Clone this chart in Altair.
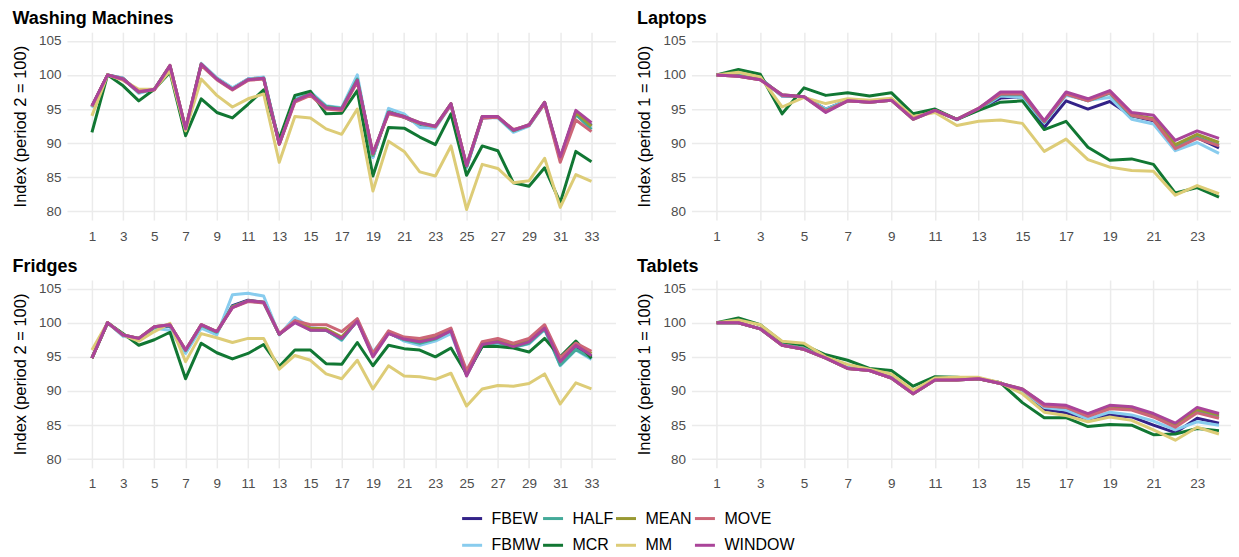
import altair as alt
import pandas as pd

# ---------------- data ----------------
periods_33 = list(range(1, 34))
periods_24 = list(range(1, 25))

series_draw = ["FBEW", "FBMW", "HALF", "MCR", "MEAN", "MM", "MOVE", "WINDOW"]
legend_order = ["FBEW", "HALF", "MEAN", "MOVE", "FBMW", "MCR", "MM", "WINDOW"]
series_colors = {
    "FBEW": "#332288", "FBMW": "#88CCEE", "HALF": "#44AA99", "MCR": "#117733",
    "MEAN": "#999933", "MM": "#DDCC77", "MOVE": "#CC6677", "WINDOW": "#AA4499",
}

# Washing Machines (period 2 = 100)
wm_fbew = [95.3, 100, 99.5, 97.4, 97.9, 101.3, 92.0, 101.5, 99.5, 98.0, 99.4, 99.6, 90.0, 96.4, 97.3, 95.3, 95.1, 99.5, 88.0, 94.7, 93.8, 92.7, 92.4, 95.7, 86.5, 93.7, 93.8, 91.8, 92.6, 95.9, 87.8, 94.6, 92.6]
wm_fbmw = [95.2, 100, 99.5, 97.3, 97.9, 101.2, 91.9, 101.7, 99.6, 98.1, 99.4, 99.7, 90.1, 96.6, 97.5, 95.5, 95.2, 100.0, 87.9, 95.1, 94.3, 92.3, 92.2, 95.6, 86.4, 93.8, 93.7, 91.6, 92.5, 95.8, 87.6, 94.5, 92.2]
wm_half = [95.4, 100, 99.4, 97.5, 97.9, 101.3, 92.1, 101.5, 99.4, 97.9, 99.3, 99.5, 89.9, 96.3, 97.3, 95.4, 95.1, 99.4, 88.2, 94.6, 93.9, 92.8, 92.4, 95.7, 86.6, 93.8, 93.8, 91.8, 92.6, 95.9, 87.6, 94.2, 92.0]
wm_mcr = [91.6, 100, 98.4, 96.2, 97.9, 100.4, 91.1, 96.5, 94.5, 93.7, 95.7, 97.8, 90.6, 97.0, 97.6, 94.3, 94.4, 97.7, 85.2, 92.3, 92.2, 90.9, 89.8, 94.3, 85.3, 89.6, 88.9, 84.2, 83.7, 86.4, 81.3, 88.8, 87.3]
wm_mean = [95.4, 100, 99.4, 97.5, 97.9, 101.4, 92.1, 101.6, 99.4, 97.9, 99.3, 99.5, 89.9, 96.2, 97.2, 95.2, 95.0, 99.2, 88.4, 94.5, 93.9, 93.0, 92.5, 95.8, 86.7, 93.9, 93.9, 91.9, 92.7, 96.0, 87.8, 94.5, 92.5]
wm_mm = [94.0, 100, 99.2, 97.9, 97.9, 100.6, 91.8, 99.4, 97.0, 95.3, 96.5, 97.2, 87.2, 93.9, 93.7, 92.1, 91.3, 95.0, 83.0, 90.3, 88.8, 85.8, 85.2, 89.6, 80.3, 86.9, 86.3, 84.2, 84.5, 87.8, 80.6, 85.4, 84.4]
wm_move = [95.4, 100, 99.3, 97.6, 97.8, 101.3, 92.2, 101.4, 99.3, 97.8, 99.2, 99.4, 89.8, 96.0, 97.0, 95.0, 94.8, 99.0, 88.6, 94.3, 93.8, 92.9, 92.4, 95.6, 86.8, 93.7, 93.8, 92.0, 92.6, 95.8, 87.2, 93.4, 91.7]
wm_window = [95.5, 100, 99.4, 97.5, 97.9, 101.4, 92.1, 101.6, 99.4, 97.9, 99.3, 99.5, 89.9, 96.2, 97.2, 95.2, 95.0, 99.2, 88.5, 94.5, 93.9, 93.0, 92.5, 95.8, 86.7, 93.9, 93.9, 91.9, 92.7, 96.0, 88.0, 94.8, 93.0]

# Laptops (period 1 = 100)
lp_fbew = [100, 99.9, 99.5, 96.9, 96.8, 95.0, 96.3, 96.1, 96.4, 93.7, 94.8, 93.5, 95.0, 96.6, 96.8, 92.3, 96.2, 95.0, 96.1, 94.0, 93.3, 89.4, 90.8, 89.3]
lp_fbmw = [100, 99.9, 99.5, 96.9, 96.8, 95.0, 96.3, 96.1, 96.4, 93.7, 94.8, 93.4, 94.9, 96.9, 96.7, 93.0, 97.0, 96.3, 96.7, 93.5, 92.8, 88.9, 90.1, 88.5]
lp_half = [100, 99.9, 99.4, 97.0, 96.8, 94.8, 96.2, 96.0, 96.3, 93.6, 94.8, 93.5, 95.0, 97.1, 97.1, 93.1, 97.2, 96.2, 97.3, 94.0, 93.5, 89.5, 90.9, 89.7]
lp_mcr = [100, 100.8, 100.1, 94.3, 98.1, 97.0, 97.4, 96.9, 97.4, 94.3, 95.0, 93.5, 94.8, 96.0, 96.2, 92.0, 93.2, 89.4, 87.5, 87.7, 86.9, 82.7, 83.5, 82.1]
lp_mean = [100, 99.8, 99.3, 97.1, 96.8, 94.6, 96.2, 96.0, 96.3, 93.5, 94.8, 93.5, 95.1, 97.3, 97.3, 93.2, 97.3, 96.4, 97.5, 94.2, 93.6, 89.8, 91.3, 90.1]
lp_mm = [100, 100.4, 99.7, 95.3, 96.7, 95.8, 96.5, 96.3, 96.6, 93.9, 94.5, 92.6, 93.2, 93.4, 92.9, 88.8, 90.6, 87.6, 86.5, 86.0, 85.9, 82.4, 83.8, 82.6]
lp_move = [100, 99.8, 99.3, 97.0, 96.8, 94.7, 96.2, 96.0, 96.3, 93.6, 94.8, 93.5, 95.1, 97.2, 97.2, 93.2, 97.2, 96.2, 97.4, 94.1, 93.4, 89.2, 90.7, 89.6]
lp_window = [100, 99.8, 99.3, 97.1, 96.8, 94.5, 96.2, 96.0, 96.3, 93.5, 94.8, 93.5, 95.1, 97.5, 97.5, 93.3, 97.5, 96.5, 97.7, 94.5, 94.1, 90.4, 91.8, 90.7]

# Fridges (period 2 = 100)
fr_fbew = [94.8, 100, 98.1, 97.7, 99.3, 99.5, 95.8, 99.6, 98.5, 102.5, 103.3, 103.0, 98.3, 100.3, 99.0, 98.9, 97.6, 100.3, 95.3, 98.5, 97.4, 97.0, 97.8, 99.0, 92.4, 96.7, 97.2, 96.6, 97.1, 99.1, 94.0, 96.4, 95.0]
fr_fbmw = [94.8, 100, 98.0, 97.6, 99.2, 98.9, 95.5, 99.2, 98.2, 104.1, 104.3, 103.9, 98.2, 100.8, 99.3, 99.0, 97.4, 100.4, 95.7, 98.6, 97.3, 96.7, 97.3, 98.4, 92.6, 96.5, 97.0, 96.4, 96.9, 99.0, 93.7, 96.0, 94.6]
fr_half = [94.8, 100, 98.2, 97.7, 99.3, 99.6, 95.9, 99.6, 98.6, 102.4, 103.2, 102.9, 98.3, 100.2, 98.9, 98.9, 97.5, 100.3, 95.2, 98.5, 97.5, 97.0, 97.6, 98.9, 92.3, 96.6, 97.1, 96.4, 97.0, 99.1, 93.8, 96.1, 94.8]
fr_mcr = [94.8, 100, 98.4, 96.7, 97.5, 98.6, 91.8, 97.0, 95.6, 94.7, 95.5, 96.8, 93.6, 96.0, 96.0, 94.0, 93.9, 97.1, 93.7, 96.7, 96.2, 96.0, 95.0, 96.3, 92.5, 96.5, 96.5, 96.3, 95.7, 97.7, 95.0, 97.3, 94.8]
fr_mean = [94.8, 100, 98.2, 97.7, 99.4, 99.7, 96.0, 99.7, 98.7, 102.3, 103.2, 103.0, 98.3, 100.1, 99.2, 99.1, 97.9, 100.4, 95.2, 98.6, 97.7, 97.4, 97.9, 99.0, 92.5, 97.0, 97.4, 96.8, 97.4, 99.4, 94.6, 96.9, 95.5]
fr_mm = [96.0, 100, 98.2, 97.3, 98.7, 99.9, 94.3, 98.4, 97.8, 97.1, 97.7, 97.7, 93.2, 95.2, 94.5, 92.5, 91.8, 94.5, 90.3, 93.7, 92.2, 92.1, 91.7, 92.6, 87.8, 90.3, 90.8, 90.7, 91.1, 92.5, 88.1, 91.2, 90.3]
fr_move = [94.8, 100, 98.2, 97.7, 99.4, 99.7, 96.0, 99.7, 98.7, 102.2, 103.1, 102.9, 98.4, 100.3, 99.7, 99.7, 98.7, 100.6, 95.5, 98.8, 97.9, 97.7, 98.2, 99.2, 93.0, 97.2, 97.7, 97.0, 97.7, 99.7, 94.9, 97.0, 95.8]
fr_window = [94.8, 100, 98.2, 97.7, 99.4, 99.7, 96.0, 99.7, 98.7, 102.2, 103.2, 103.0, 98.3, 100.0, 98.9, 98.9, 97.7, 100.2, 95.0, 98.4, 97.6, 97.2, 97.7, 98.8, 92.2, 96.8, 97.2, 96.5, 97.2, 99.2, 94.3, 96.7, 95.2]

# Tablets (period 1 = 100)
tb_fbew = [100, 100.0, 99.1, 96.8, 96.2, 94.9, 93.4, 93.1, 92.0, 89.8, 91.7, 91.7, 91.8, 91.2, 89.8, 87.3, 86.8, 85.9, 86.5, 86.2, 85.0, 83.9, 86.0, 85.3]
tb_fbmw = [100, 100.0, 99.1, 96.8, 96.2, 94.9, 93.4, 93.1, 92.0, 89.8, 91.7, 91.7, 91.8, 91.2, 90.0, 87.6, 87.2, 85.9, 86.9, 86.5, 85.6, 84.3, 85.5, 85.0]
tb_half = [100, 100.0, 99.1, 96.7, 96.1, 94.8, 93.3, 93.0, 91.9, 89.6, 91.6, 91.6, 91.8, 91.1, 90.2, 87.9, 87.6, 86.4, 87.6, 87.3, 86.3, 84.9, 87.0, 86.3]
tb_mcr = [100, 100.7, 99.7, 97.2, 96.7, 95.3, 94.5, 93.3, 93.0, 90.7, 92.1, 92.0, 91.8, 91.2, 88.3, 86.1, 86.1, 84.8, 85.1, 85.0, 83.6, 83.7, 84.5, 84.2]
tb_mean = [100, 100.0, 99.1, 96.7, 96.1, 94.8, 93.3, 93.0, 91.9, 89.6, 91.6, 91.6, 91.8, 91.1, 90.3, 88.0, 87.8, 86.6, 87.8, 87.5, 86.5, 85.1, 87.3, 86.5]
tb_mm = [100, 100.4, 99.7, 97.3, 97.0, 95.0, 93.9, 93.2, 92.5, 90.1, 91.9, 92.0, 92.0, 91.2, 89.6, 86.9, 86.4, 85.5, 86.2, 85.7, 84.3, 82.8, 84.7, 83.7]
tb_move = [100, 100.0, 99.1, 96.7, 96.1, 94.8, 93.3, 93.0, 91.9, 89.6, 91.6, 91.6, 91.8, 91.1, 90.2, 87.8, 87.6, 86.3, 87.4, 87.2, 86.2, 84.7, 86.8, 86.0]
tb_window = [100, 100.0, 99.1, 96.7, 96.1, 94.8, 93.3, 93.0, 91.9, 89.6, 91.6, 91.6, 91.8, 91.1, 90.3, 88.1, 87.9, 86.7, 87.9, 87.7, 86.7, 85.3, 87.6, 86.7]

y_ticks = [80, 85, 90, 95, 100, 105]
x_ticks_33 = list(range(1, 34, 2))
x_ticks_24 = list(range(1, 25, 2))

FONT = "Liberation Sans"


def make_df(periods, series_dict):
    rows = []
    for s in series_draw:
        for p, v in zip(periods, series_dict[s]):
            rows.append({"period": p, "value": v, "series": s})
    return pd.DataFrame(rows)


def panel(title, periods, series_dict, ytitle, xdom, width, xticks):
    df = make_df(periods, series_dict)
    base = alt.Chart(df)
    layers = []
    for s in series_draw:
        layers.append(
            base.transform_filter(alt.datum.series == s)
            .mark_line(strokeWidth=3, strokeJoin="round", strokeCap="butt")
            .encode(
                x=alt.X("period:Q",
                        scale=alt.Scale(domain=xdom, nice=False, zero=False),
                        axis=alt.Axis(values=xticks, title=None, labelOverlap=False,
                                      labelPadding=9, labelFlush=False)),
                y=alt.Y("value:Q",
                        scale=alt.Scale(domain=[78.75, 106.25], nice=False, zero=False),
                        axis=alt.Axis(values=y_ticks, title=ytitle, labelPadding=6,
                                      titlePadding=10)),
                color=alt.Color(
                    "series:N",
                    scale=alt.Scale(domain=legend_order,
                                    range=[series_colors[k] for k in legend_order]),
                    legend=alt.Legend(title=None, orient="none", legendX=394, legendY=475,
                                      direction="horizontal", columns=4, gridAlign="each",
                                      symbolType="stroke", symbolSize=400,
                                      symbolStrokeWidth=3, labelFontSize=16, labelFont=FONT,
                                      labelColor="#000000", columnPadding=-4, rowPadding=7,
                                      labelOffset=8, padding=0),
                ),
            )
        )
    return alt.layer(*layers).properties(
        width=width, height=188,
        title=alt.TitleParams(title, anchor="start", fontSize=18, fontWeight="bold",
                              font=FONT, color="#000000", offset=4),
    )


wm = panel("Washing Machines", periods_33,
           {"FBEW": wm_fbew, "FBMW": wm_fbmw, "HALF": wm_half, "MCR": wm_mcr,
            "MEAN": wm_mean, "MM": wm_mm, "MOVE": wm_move, "WINDOW": wm_window},
           "Index (period 2 = 100)", [-0.6, 34.54], 549, x_ticks_33)
lp = panel("Laptops", periods_24,
           {"FBEW": lp_fbew, "FBMW": lp_fbmw, "HALF": lp_half, "MCR": lp_mcr,
            "MEAN": lp_mean, "MM": lp_mm, "MOVE": lp_move, "WINDOW": lp_window},
           "Index (period 1 = 100)", [-0.15, 24.55], 540, x_ticks_24)
fr = panel("Fridges", periods_33,
           {"FBEW": fr_fbew, "FBMW": fr_fbmw, "HALF": fr_half, "MCR": fr_mcr,
            "MEAN": fr_mean, "MM": fr_mm, "MOVE": fr_move, "WINDOW": fr_window},
           "Index (period 2 = 100)", [-0.6, 34.54], 549, x_ticks_33)
tb = panel("Tablets", periods_24,
           {"FBEW": tb_fbew, "FBMW": tb_fbmw, "HALF": tb_half, "MCR": tb_mcr,
            "MEAN": tb_mean, "MM": tb_mm, "MOVE": tb_move, "WINDOW": tb_window},
           "Index (period 1 = 100)", [-0.15, 24.55], 540, x_ticks_24)

chart = alt.vconcat(
    alt.hconcat(wm, lp, spacing=21),
    alt.hconcat(fr, tb, spacing=21),
    spacing=15,
).configure_view(stroke=None).configure_axis(
    grid=True, gridColor="#EBEBEB", gridWidth=1.5, domain=False, ticks=False,
    labelColor="#4D4D4D", labelFontSize=13.5, labelFont=FONT,
    titleColor="#000000", titleFontSize=16.5, titleFont=FONT, titleFontWeight="normal",
).properties(padding={"left": 4, "top": 2, "right": 0, "bottom": 0}, background="white")

chart.save("out.html", embed_options={"renderer": "svg", "actions": False})
